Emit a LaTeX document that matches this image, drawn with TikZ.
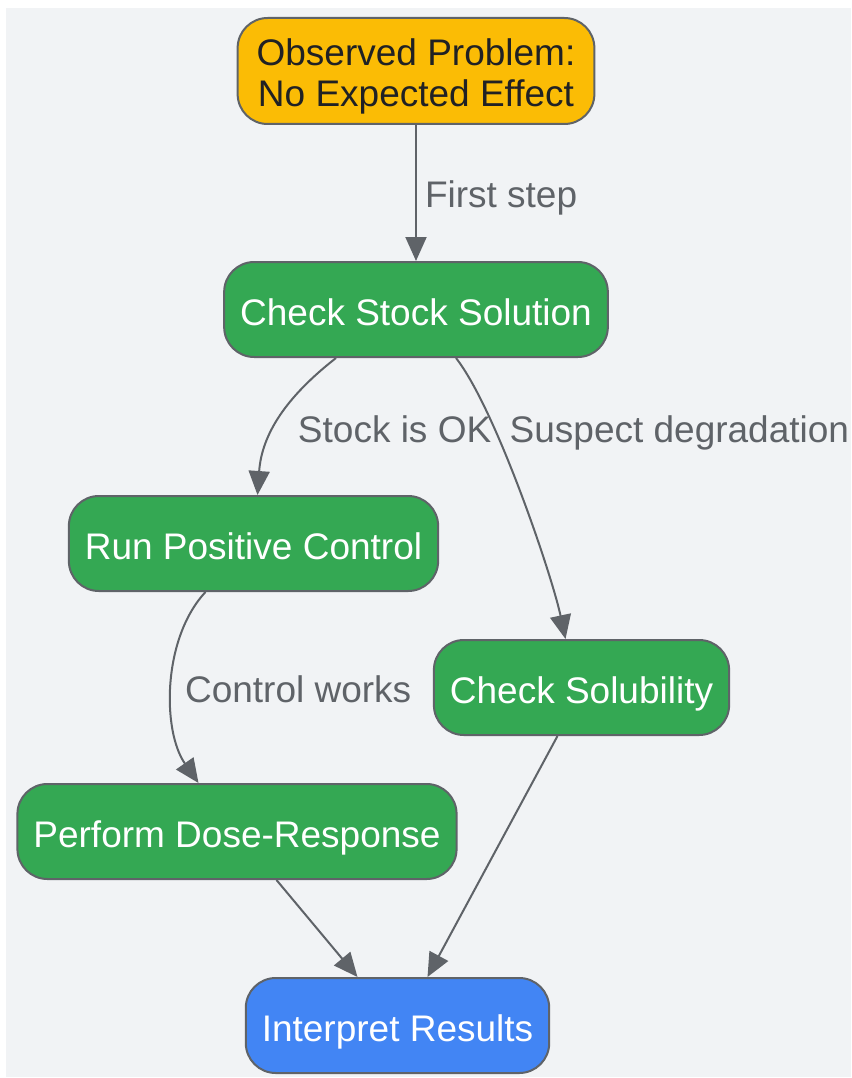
\documentclass[tikz,border=0pt]{standalone}
\usepackage{fontspec}
\setmainfont{Liberation Sans}
\usetikzlibrary{positioning,arrows.meta}
\definecolor{bgcol}{RGB}{241,243,245}
\definecolor{linecol}{RGB}{95,99,104}
\definecolor{gyellow}{RGB}{251,188,5}
\definecolor{ggreen}{RGB}{52,168,83}
\definecolor{gblue}{RGB}{66,133,244}
\definecolor{txtdark}{RGB}{32,33,36}
\tikzset{
  box/.style={draw=linecol, line width=2pt, rounded corners=30pt, minimum height=95pt,
    inner xsep=16pt, align=center, font=\fontsize{37}{41}\selectfont},
  proc/.style={box, fill=ggreen, text=white, text height=31pt, text depth=0pt},
  start/.style={box, fill=gyellow, text=txtdark, inner xsep=19pt, minimum height=106pt,
    text height=72pt, text depth=0pt},
  finish/.style={box, fill=gblue, text=white, text height=31pt, text depth=0pt},
  edge/.style={draw=linecol, line width=2pt, -{Triangle[length=24pt,width=21pt]}},
  lbl/.style={text=linecol, inner sep=4pt, font=\fontsize{37}{43}\selectfont},
}
\begin{document}
\begin{tikzpicture}[x=1pt,y=1pt]
  \useasboundingbox (0,0) rectangle (851,-1078);
  \fill[bgcol] (6,-8) rectangle (851,-1077);

  \node[start] (obs) at (416,-71) {Observed Problem:\\No Expected Effect}; %
  \node[proc, below=136pt of obs] (stock) {Check Stock Solution}; %
  \node[proc, below=137pt of stock, xshift=-162.5pt] (posctl) {Run Positive Control}; %
  \node[proc, below=281pt of stock, xshift=165.5pt] (solub) {Check Solubility}; %
  \node[proc, below=191pt of posctl, xshift=-16.5pt] (dose) {Perform Dose-Response}; %
  \node[finish, below=97pt of dose, xshift=160.5pt] (interp) {Interpret Results}; %

  \draw[edge] (obs) -- node[lbl, right=4pt, yshift=-5pt] {First step} (stock);
  \draw[edge] ([xshift=-80pt]stock.south) to[out=218, in=86]
    node[lbl, pos=0.6, anchor=west, xshift=20pt, yshift=2pt] {Stock is OK} ([xshift=4pt]posctl.north);
  \draw[edge] ([xshift=40pt]stock.south) to[out=-52, in=102, looseness=0.55]
    node[lbl, pos=0.3, anchor=west, xshift=10pt, yshift=-4pt] {Suspect degradation} ([xshift=-16pt]solub.north);
  \draw[edge] ([xshift=-48pt]posctl.south) to[out=227, in=125, looseness=0.85]
    node[lbl, pos=0.5, anchor=west, xshift=8pt, yshift=-4pt] {Control works} ([xshift=-38.5pt]dose.north);
  \draw[edge] ([xshift=-24pt]solub.south) -- ([xshift=30pt]interp.north);
  \draw[edge] ([xshift=39.5pt]dose.south) -- ([xshift=-40pt]interp.north);

\end{tikzpicture}
\end{document}
